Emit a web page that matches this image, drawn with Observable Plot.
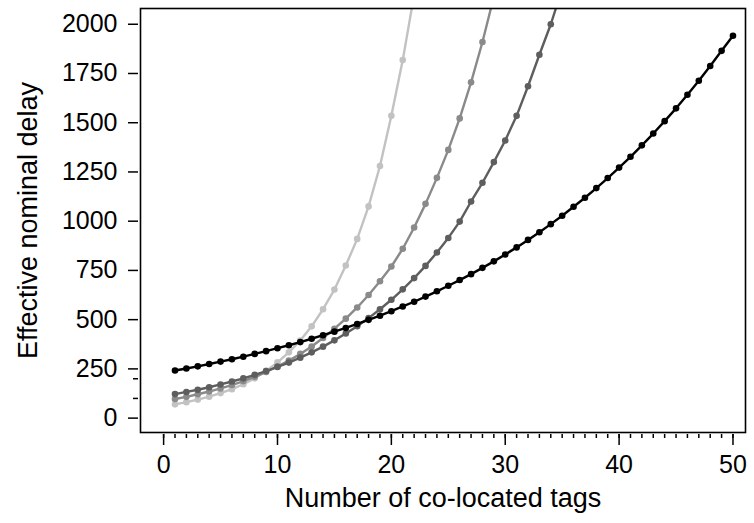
<!DOCTYPE html>
<html><head><meta charset="utf-8">
<script src="https://cdn.jsdelivr.net/npm/d3@7"></script>
<script src="https://cdn.jsdelivr.net/npm/@observablehq/plot@0.6"></script>
<style>body{margin:0;background:#fff}</style>
</head><body><div id="chart"></div>
<script>
const tags = [1,2,3,4,5,6,7,8,9,10,11,12,13,14,15,16,17,18,19,20,21,22,23,24,25,26,27,28,29,30,31,32,33,34,35,36,37,38,39,40,41,42,43,44,45,46,47,48,49,50];
const seriesBlack = [242,252,263,275,287,299,312,326,340,355,370,386,403,421,439,458,478,499,520,543,567,591,617,644,672,701,731,763,796,831,867,905,944,985,1028,1073,1119,1168,1219,1272,1327,1385,1445,1508,1573,1642,1713,1788,1865,1942];
const seriesDark = [122,133,144,157,171,186,202,220,239,260,282,307,334,363,395,430,467,508,553,601,654,711,773,841,915,998,1100,1195,1300,1410,1535,1685,1845,2000,2180];
const seriesMedium = [97,108,121,135,151,168,188,210,234,262,292,326,364,407,454,505,562,625,695,770,860,968,1088,1220,1362,1522,1705,1910,2140];
const seriesLight = [70,81,94,109,127,147,172,202,240,283,334,394,466,553,653,775,910,1075,1280,1535,1818,2150];
const seriesNames = ["light","medium","dark","black"];
const seriesColors = ["#c2c2c2","#8a8a8a","#5e5e5e","#000000"];
const xTicks = [0,10,20,30,40,50];
const yTicks = [0,250,500,750,1000,1250,1500,1750,2000];
const yMinorTicks = [100,200];

const seriesValues = [seriesLight, seriesMedium, seriesDark, seriesBlack];
const rows = seriesValues.flatMap((vals, s) => vals.map((v, i) => ({series: seriesNames[s], tags: tags[i], delay: v})));
const xMinorTicks = d3.range(0, 51);

const lineMarks = seriesNames.flatMap((name, s) => [
  Plot.line(rows.filter(d => d.series === name), {x: "tags", y: "delay", stroke: seriesColors[s], strokeWidth: 2.4, clip: true}),
  Plot.dot(rows.filter(d => d.series === name), {x: "tags", y: "delay", r: 3.3, fill: seriesColors[s], stroke: "none", clip: true})
]);

const chart = Plot.plot({
  width: 754, height: 523,
  marginLeft: 140, marginRight: 9, marginTop: 8, marginBottom: 91,
  x: {domain: [-2.03, 51.1]},
  y: {domain: [-73, 2080]},
  style: {fontFamily: "'Liberation Sans', Arial, sans-serif", fontSize: "25px", color: "#000", background: "#fff"},
  marks: [
    ...lineMarks,
    Plot.frame({stroke: "#000", strokeWidth: 1.6}),
    Plot.axisY(yTicks, {tickSize: 10, tickPadding: 11, dx: -2, strokeWidth: 1.5, label: null, fontSize: 25, tickFormat: d => String(d)}),
    Plot.axisY(yMinorTicks, {tickSize: 5, dx: -2, strokeWidth: 1.5, label: null, tickFormat: () => ""}),
    Plot.axisX(xTicks, {tickSize: 11, tickPadding: 10, dy: 2, strokeWidth: 1.5, label: null, fontSize: 25, tickFormat: d => String(d)}),
    Plot.axisX(xMinorTicks, {tickSize: 4, dy: 2, strokeWidth: 1.5, label: null, tickFormat: () => ""}),
    Plot.text(["Effective nominal delay"], {text: d => d, frameAnchor: "left", rotate: -90, textAnchor: "middle", dx: -112, fontSize: 27}),
    Plot.text(["Number of co-located tags"], {text: d => d, frameAnchor: "bottom", textAnchor: "middle", dy: 74, fontSize: 27})
  ]
});
document.getElementById("chart").appendChild(chart);
</script>
</body></html>
